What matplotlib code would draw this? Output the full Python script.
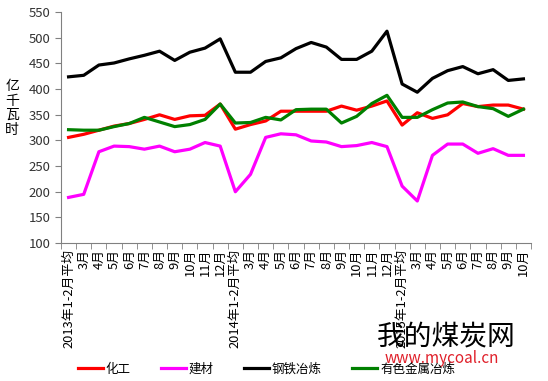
import numpy as np
import matplotlib
matplotlib.use("Agg")
import matplotlib.pyplot as plt

plt.rcParams['font.family'] = ['Noto Sans CJK SC', 'DejaVu Sans']

# categories: 2013 1-2月平均 .. 12月, 2014 1-2月平均 .. 12月, 2015 1-2月平均 .. 10月
labels = (["2013年1-2月平均"] + ["%d月" % m for m in range(3, 13)] +
          ["2014年1-2月平均"] + ["%d月" % m for m in range(3, 13)] +
          ["2015年1-2月平均"] + ["%d月" % m for m in range(3, 11)])

chem = [306, 312, 320, 328, 333, 341, 350, 341, 348, 349, 371,
        322, 331, 338, 357, 357, 357, 357, 367, 359, 367, 377,
        330, 354, 343, 350, 372, 366, 369, 369, 361]
build = [189, 195, 278, 289, 288, 283, 289, 278, 283, 296, 289,
         200, 234, 306, 313, 311, 299, 297, 288, 290, 296, 288,
         211, 182, 271, 293, 293, 275, 284, 271, 271]
steel = [424, 427, 447, 451, 459, 466, 474, 456, 472, 480, 498,
         433, 433, 454, 461, 479, 491, 482, 458, 458, 474, 513,
         410, 394, 421, 436, 444, 430, 438, 417, 420]
metal = [321, 320, 320, 327, 333, 345, 336, 327, 331, 341, 371,
         334, 335, 345, 340, 360, 361, 361, 334, 347, 372, 388,
         345, 345, 360, 373, 375, 366, 362, 347, 361]

series = [("化工", chem, "#FF0000"),
          ("建材", build, "#FF00FF"),
          ("钢铁冶炼", steel, "#000000"),
          ("有色金属冶炼", metal, "#008000")]

fig = plt.figure(figsize=(5.48, 3.81), dpi=100)
ax = fig.add_axes([0.1113, 0.362, 0.8577, 0.606])

x = np.arange(len(labels))
for name, vals, col in series:
    ax.plot(x, vals, color=col, lw=2.3, label=name)

ax.set_xlim(-0.5, len(labels) - 0.5)
ax.set_ylim(100, 550)
ax.set_yticks(range(100, 551, 50))
ax.set_xticks(x)
ax.set_xticklabels(labels, rotation=90, fontsize=9.3)
ax.set_xticks(np.arange(-0.5, len(labels), 1), minor=True)
ax.tick_params(axis='x', which='major', length=0, pad=4)
ax.tick_params(axis='x', which='minor', length=4, color='#808080')
ax.tick_params(axis='y', length=4, color='#808080', labelsize=9.5, labelcolor='#333333')

for s in ['top', 'right']:
    ax.spines[s].set_visible(False)
for s in ['left', 'bottom']:
    ax.spines[s].set_color('#808080')

fig.text(0.022, 0.717, "亿\n千\n瓦\n时", fontsize=10, ha='center', va='center',
         linespacing=1.05)

fig.legend(loc='center', bbox_to_anchor=(0.486, 0.031), ncol=4, frameon=False,
           fontsize=9, handlelength=2.0, columnspacing=2.4, handletextpad=0.25)

# watermark
fig.text(0.815, 0.118, "我的煤炭网", fontsize=20, ha='center', va='center', color='black')
fig.text(0.806, 0.058, "www.mycoal.cn", fontsize=11, ha='center', va='center', color='#E0202A')

plt.savefig('out.png', dpi=100)
